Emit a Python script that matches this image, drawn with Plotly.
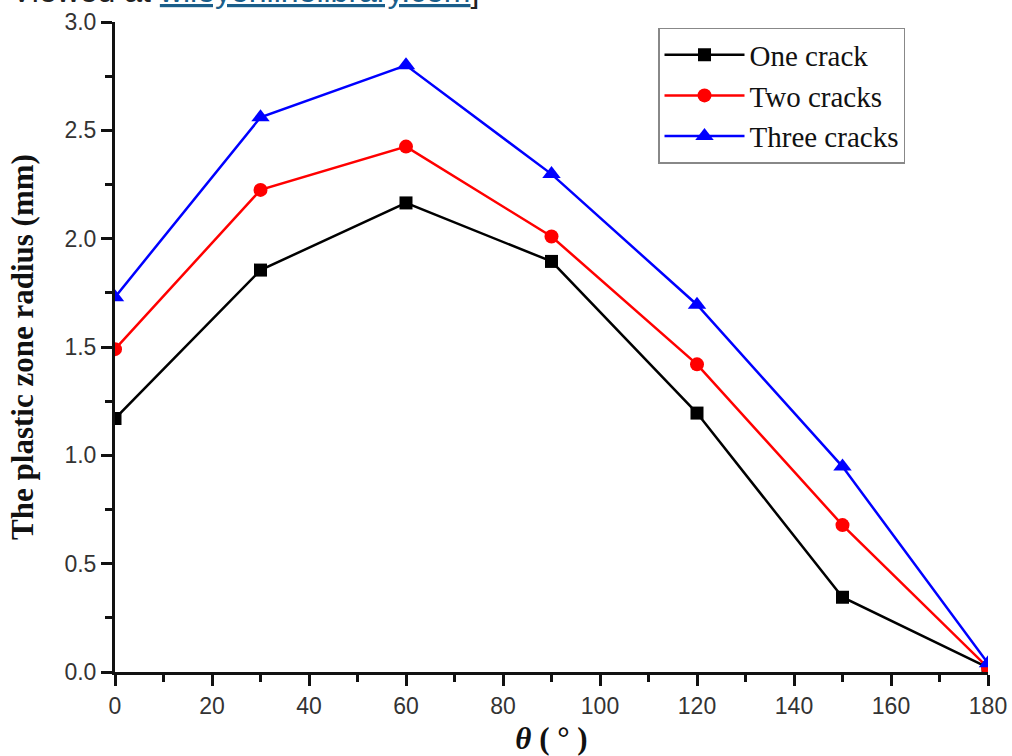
import plotly.graph_objects as go

theta = [0, 30, 60, 90, 120, 150, 180]
one_crack = [1.17, 1.855, 2.165, 1.895, 1.195, 0.345, 0.02]
two_cracks = [1.49, 2.225, 2.425, 2.01, 1.42, 0.678, 0.02]
three_cracks = [1.73, 2.56, 2.80, 2.298, 1.695, 0.948, 0.04]

series = [
    ("One crack", one_crack, "black", "square", 13),
    ("Two cracks", two_cracks, "red", "circle", 14),
    ("Three cracks", three_cracks, "blue", "triangle-up", 16),
]

fig = go.Figure()
for name, vals, col, sym, sz in series:
    fig.add_trace(go.Scatter(
        x=theta, y=vals, name=name, mode="lines+markers",
        line=dict(color=col, width=2.5),
        marker=dict(symbol=sym, size=sz, color=col),
        cliponaxis=True,
    ))

fig.update_layout(
    width=1012, height=756,
    paper_bgcolor="white", plot_bgcolor="white",
    margin=dict(l=115, r=24, t=22, b=84, autoexpand=False),
    showlegend=True,
    legend=dict(
        x=0.622, y=0.991, xanchor="left", yanchor="top",
        bgcolor="white", bordercolor="#888888", borderwidth=1.5,
        font=dict(family="Liberation Serif", size=29, color="#111111"),
        itemwidth=80, tracegroupgap=0,
    ),
    xaxis=dict(
        range=[0, 180], tickmode="array", tickvals=list(range(0, 181, 20)),
        automargin=False,
        showgrid=False, zeroline=False, showline=True, linecolor="#111111", linewidth=3,
        ticks="outside", ticklen=11, tickwidth=2.5, tickcolor="#111111",
        minor=dict(tickvals=list(range(10, 180, 20)), ticks="outside", ticklen=7, tickwidth=2.5, tickcolor="#111111"),
        tickfont=dict(family="Liberation Sans", size=23, color="#333333"),
        title=dict(text="<b><i>θ</i> ( ° )</b>", font=dict(family="Liberation Serif", size=31, color="#111111"), standoff=14),
    ),
    yaxis=dict(
        range=[0, 3], tickmode="array", tickvals=[0, 0.5, 1.0, 1.5, 2.0, 2.5, 3.0],
        ticktext=["0.0", "0.5", "1.0", "1.5", "2.0", "2.5", "3.0"],
        automargin=False,
        showgrid=False, zeroline=False, showline=True, linecolor="#111111", linewidth=3,
        ticks="outside", ticklen=11, tickwidth=2.5, tickcolor="#111111",
        minor=dict(tickvals=[0.25, 0.75, 1.25, 1.75, 2.25, 2.75], ticks="outside", ticklen=7, tickwidth=2.5, tickcolor="#111111"),
        tickfont=dict(family="Liberation Sans", size=23, color="#333333"),
        title=dict(text="<b>The plastic zone radius (mm)</b>", font=dict(family="Liberation Serif", size=31, color="#111111"), standoff=22),
    ),
)

fig.add_annotation(
    xref="paper", yref="paper", x=-0.1215, y=1.0, xanchor="left", yanchor="bottom", yshift=11,
    text="Viewed at <span style='color:#1a5e8a'><u>wileyonlinelibrary.com</u></span>]",
    showarrow=False, font=dict(family="Liberation Sans", size=32, color="#222222"),
)

fig.write_html("out.html", config={"displayModeBar": False},
               post_script="document.body.style.margin='0';document.body.style.overflow='hidden';")
